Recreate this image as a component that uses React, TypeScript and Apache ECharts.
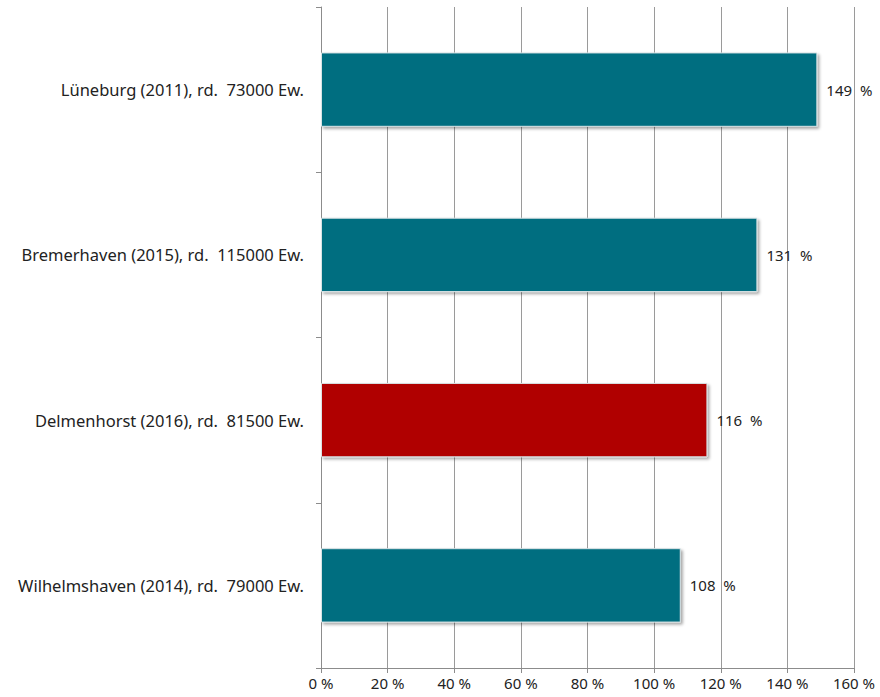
import React, { useEffect, useRef } from "react";
import * as echarts from "echarts";

const categories = [
  "Lüneburg (2011), rd.  73000 Ew.",
  "Bremerhaven (2015), rd.  115000 Ew.",
  "Delmenhorst (2016), rd.  81500 Ew.",
  "Wilhelmshaven (2014), rd.  79000 Ew.",
];
const values = [149, 131, 116, 108];
const barColors = ["#006E80", "#006E80", "#B00000", "#006E80"];

export default function App() {
  const ref = useRef<HTMLDivElement>(null);
  useEffect(() => {
    const chart = echarts.init(ref.current!, null, { renderer: "svg" });
    const font = "Noto Sans";
    chart.setOption({
      animation: false,
      backgroundColor: "#ffffff",
      grid: { left: 321, right: 26, top: 7, bottom: 29, containLabel: false },
      xAxis: {
        type: "value",
        min: 0,
        max: 160,
        interval: 20,
        axisLine: { show: true, lineStyle: { color: "#8c8c8c", width: 1 } },
        axisTick: { show: true, length: 5, lineStyle: { color: "#8c8c8c" } },
        splitLine: { show: true, lineStyle: { color: "#9a9a9a", width: 1 } },
        axisLabel: {
          formatter: (v: number) => v + " %",
          color: "#222",
          fontFamily: font,
          fontSize: 15,
          margin: 7,
        },
      },
      yAxis: {
        type: "category",
        data: categories,
        inverse: true,
        axisLine: { show: true, lineStyle: { color: "#8c8c8c", width: 1 } },
        axisTick: { show: true, length: 5, lineStyle: { color: "#8c8c8c" } },
        axisLabel: {
          color: "#222",
          fontFamily: font,
          fontSize: 16.5,
          margin: 17,
        },
      },
      series: [
        {
          type: "bar",
          barWidth: "45%",
          data: values.map((v, i) => ({
            value: v,
            itemStyle: {
              color: barColors[i],
              borderColor: "#d8e2e4",
              borderWidth: 1,
              shadowColor: "rgba(0,0,0,0.35)",
              shadowBlur: 3,
              shadowOffsetX: 2,
              shadowOffsetY: 2,
            },
          })),
          label: {
            show: true,
            position: "right",
            distance: 9,
            formatter: (p: any) => p.value + "  %",
            color: "#222",
            fontFamily: font,
            fontSize: 15,
          },
        },
      ],
    });
    return () => chart.dispose();
  }, []);
  return (
    <div
      ref={ref}
      style={{ position: "fixed", left: 0, top: 0, width: 880, height: 697 }}
    />
  );
}
